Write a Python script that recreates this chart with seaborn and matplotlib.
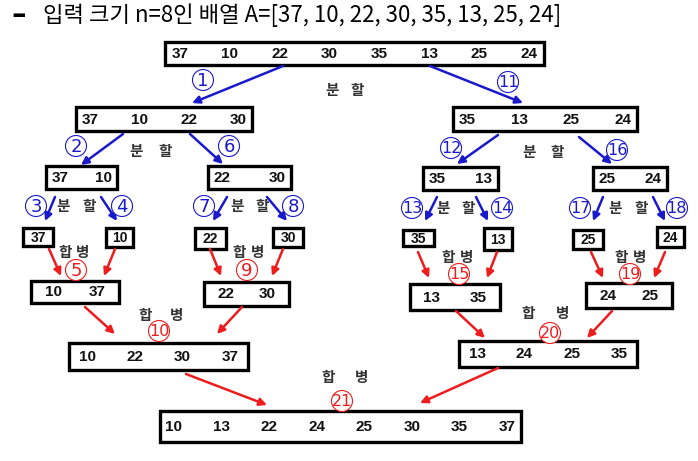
import matplotlib
matplotlib.use("Agg")
import matplotlib.pyplot as plt
from matplotlib.patches import Rectangle, Circle
import seaborn as sns

# ---- values ----
title_dash = "–"
title_text = "입력 크기 n=8인 배열 A=[37, 10, 22, 30, 35, 13, 25, 24]"
top_values = [37, 10, 22, 30, 35, 13, 25, 24]
split1_values = [[37, 10, 22, 30], [35, 13, 25, 24]]
split2_values = [[37, 10], [22, 30], [35, 13], [25, 24]]
leaf_values = [37, 10, 22, 30, 35, 13, 25, 24]
merge1_values = [[10, 37], [22, 30], [13, 35], [24, 25]]
merge2_values = [[10, 22, 30, 37], [13, 24, 25, 35]]
final_values = [10, 13, 22, 24, 25, 30, 35, 37]
split_steps = [1, 11, 2, 6, 12, 16, 3, 4, 7, 8, 13, 14, 17, 18]
merge_steps = [5, 9, 15, 19, 10, 20, 21]
split_word = "분할"
merge_word = "합병"

# ---- layout (pixels, y downwards) ----
top_box = (165, 42, 544, 65)
split1_boxes = [(76, 107, 252, 131), (453, 107, 637, 131)]
split2_boxes = [(46, 166, 117, 189), (208, 166, 291, 189),
                (423, 167, 498, 190), (593, 167, 667, 190)]
leaf_boxes = [(23, 228, 53, 246), (106, 228, 133, 247), (195, 228, 226, 249),
              (273, 228, 303, 247), (403, 230, 434, 246), (484, 228, 512, 250),
              (573, 230, 603, 249), (657, 227, 684, 247)]
merge1_boxes = [(31, 281, 119, 303), (204, 282, 289, 306),
                (410, 284, 500, 310), (586, 283, 672, 308)]
merge2_boxes = [(69, 343, 248, 370), (459, 341, 637, 367)]
final_box = (160, 411, 521, 442)

split_arrows = [((283, 66), (192, 103), (203, 80)),
                ((430, 66), (523, 103), (508, 82)),
                ((123, 134), (81, 165), (76, 146)),
                ((190, 134), (223, 164), (229, 146)),
                ((498, 135), (457, 164), (451, 148)),
                ((579, 137), (612, 164), (617, 150)),
                ((55, 197), (45, 221), (36, 206)),
                ((101, 197), (117, 221), (122, 206)),
                ((227, 197), (213, 221), (204, 206)),
                ((267, 197), (287, 221), (293, 206)),
                ((437, 197), (425, 221), (412, 208)),
                ((476, 197), (488, 221), (502, 208)),
                ((603, 197), (593, 221), (580, 208)),
                ((653, 197), (665, 221), (677, 208))]
merge_arrows = [(((49, 249), (61, 276)), ((115, 249), (104, 276)), (76, 270)),
                (((210, 249), (221, 276)), ((283, 249), (272, 276)), (247, 270)),
                (((418, 252), (429, 278)), ((497, 252), (487, 278)), (459, 274)),
                (((591, 252), (603, 278)), ((665, 252), (654, 278)), (630, 274)),
                (((85, 307), (115, 334)), ((242, 307), (217, 334)), (159, 331)),
                (((456, 311), (485, 338)), ((612, 311), (587, 338)), (550, 333)),
                (((186, 374), (267, 405)), ((498, 368), (420, 403)), (342, 401))]
split_labels = [(332, 357, 90), (136, 165, 151), (529, 557, 152),
                (63, 89, 206), (237, 262, 206), (443, 468, 208), (615, 641, 208)]
merge_labels = [(65, 83, 252), (239, 258, 252), (448, 467, 257), (621, 640, 257),
                (145, 177, 315), (528, 563, 313), (328, 362, 377)]

BLUE = "#1a1acc"
RED = "#ee1c1c"
WORD = "#333333"
KFONT = ["Noto Sans CJK KR", "DejaVu Sans"]

sns.set_theme(style="white")
plt.rcParams["font.family"] = KFONT

fig = plt.figure(figsize=(6.98, 4.61), dpi=100)
ax = fig.add_axes([0, 0, 1, 1])
ax.set_xlim(0, 698)
ax.set_ylim(461, 0)
ax.set_aspect("equal")
ax.axis("off")


def draw_box(rect, values, pad=14, fs=11):
    x0, y0, x1, y1 = rect
    ax.add_patch(Rectangle((x0, y0), x1 - x0, y1 - y0, fill=False,
                           ec="black", lw=2.4, zorder=3))
    yc = (y0 + y1) / 2 + 0.5
    n = len(values)
    if n == 1:
        xs = [(x0 + x1) / 2]
    else:
        step = (x1 - x0 - 2 * pad) / (n - 1)
        xs = [x0 + pad + i * step for i in range(n)]
    for x, v in zip(xs, values):
        ax.text(x, yc, str(v), ha="center", va="center", fontsize=fs,
                fontweight="bold", color="#111111", family=["Liberation Sans"], zorder=4)


def draw_arrow(p0, p1, color):
    ax.annotate("", xy=p1, xytext=p0,
                arrowprops=dict(arrowstyle="-|>", color=color, lw=1.8,
                                mutation_scale=11, shrinkA=0, shrinkB=0),
                zorder=5)


def draw_step(center, num, color):
    x, y = center
    ax.add_patch(Circle((x, y), 10.5, fill=True, fc="white", ec=color, lw=0.8, zorder=6))
    fs = 13 if num < 10 else 11.5
    ax.text(x, y + 0.5, str(num), ha="center", va="center", fontsize=fs,
            color=color, family=["DejaVu Sans"], zorder=7)


def draw_word(lbl, word):
    xa, xb, y = lbl
    for x, ch in zip((xa, xb), word):
        ax.text(x, y, ch, ha="center", va="center", fontsize=10.5,
                fontweight="bold", color=WORD, zorder=4)


ax.text(11, 15, title_dash, ha="left", va="center", fontsize=21, fontweight="bold",
        family=["DejaVu Sans"], color="black")
ax.text(43, 15, title_text, ha="left", va="center", fontsize=16, color="black")

draw_box(top_box, top_values, pad=15)
for r, v in zip(split1_boxes, split1_values):
    draw_box(r, v)
for r, v in zip(split2_boxes, split2_values):
    draw_box(r, v)
for r, v in zip(leaf_boxes, leaf_values):
    draw_box(r, [v], fs=10)
for r, v in zip(merge1_boxes, merge1_values):
    draw_box(r, v, pad=22)
for r, v in zip(merge2_boxes, merge2_values):
    draw_box(r, v, pad=18)
draw_box(final_box, final_values, pad=14)

for (p0, p1, c), num in zip(split_arrows, split_steps):
    draw_arrow(p0, p1, BLUE)
    draw_step(c, num, BLUE)
for (a1, a2, c), num in zip(merge_arrows, merge_steps):
    draw_arrow(*a1, RED)
    draw_arrow(*a2, RED)
    draw_step(c, num, RED)

for lbl in split_labels:
    draw_word(lbl, split_word)
for lbl in merge_labels:
    draw_word(lbl, merge_word)

fig.savefig("out.png", dpi=100, facecolor="white")
